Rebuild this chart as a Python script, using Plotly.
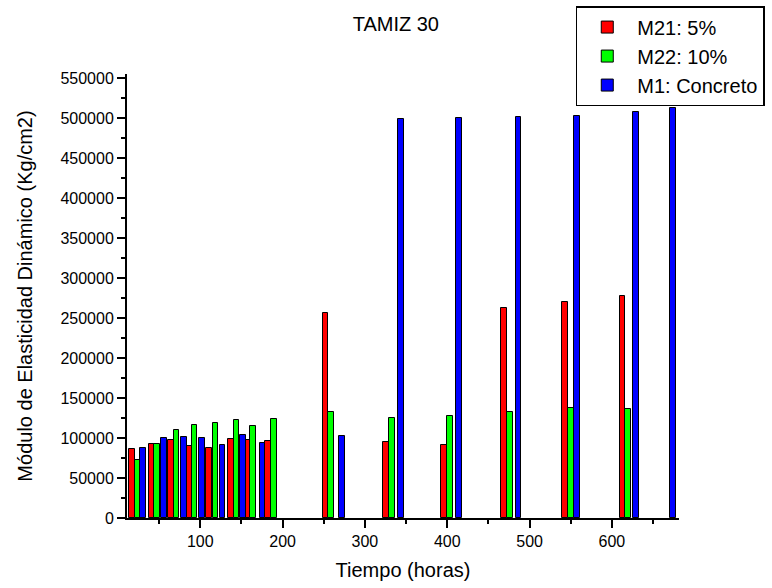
import plotly.graph_objects as go

# Data
hours_m21 = [17, 41, 64, 87, 111, 137, 157.5, 182, 252, 326, 396, 469, 543, 613]
mod_m21 = [86000, 92000, 97500, 90000, 87000, 98500, 97500, 96500,
           256500, 95500, 91500, 262500, 270000, 277500]

hours_m22 = [24, 47.5, 71, 93, 118.5, 144, 164, 189.5, 259, 333, 403, 476, 550, 620]
mod_m22 = [72000, 92500, 109500, 116500, 119000, 122000, 115000, 123500,
           132000, 124500, 127500, 133000, 137500, 136000]

hours_m1 = [30.5, 56, 80, 102.5, 127, 151.5, 175.5, 272, 343.5, 414, 486.5, 557.5, 629.5, 674]
mod_m1 = [87000, 100000, 101000, 100500, 91500, 104000, 93500,
          102500, 499000, 500000, 501000, 502000, 507000, 512500]

series = [
    ("M21: 5%", hours_m21, mod_m21, "#FF0000"),
    ("M22: 10%", hours_m22, mod_m22, "#00FF00"),
    ("M1: Concreto", hours_m1, mod_m1, "#0000FF"),
]

FONT = "Liberation Sans, Arial, Helvetica, sans-serif"

fig = go.Figure()
for name, xs, ys, col in series:
    fig.add_trace(go.Bar(
        name=name, x=xs, y=ys, width=7,
        marker=dict(color=col, line=dict(color="#000000", width=1)),
    ))

fig.update_layout(
    width=772, height=588,
    barmode="overlay",
    paper_bgcolor="white", plot_bgcolor="white",
    margin=dict(l=127, r=93, t=74, b=70, autoexpand=False),
    font=dict(family=FONT, color="#000000"),
    title=dict(text="TAMIZ 30", x=0.487, xref="paper", xanchor="center",
               y=1 - 24 / 588, yref="container", yanchor="middle",
               font=dict(size=20, family=FONT, color="#000000")),
    showlegend=True,
    legend=dict(x=0.813, y=1.153, xanchor="left", yanchor="top",
                bgcolor="white", bordercolor="#000000", borderwidth=1.5,
                font=dict(size=20, family=FONT, color="#000000"),
                tracegroupgap=0, itemwidth=50),
    bargap=0,
)

fig.update_xaxes(
    range=[11, 681.5], tickmode="linear", tick0=0, dtick=100,
    ticks="outside", ticklen=8, tickwidth=1.5, tickcolor="#000000",
    minor=dict(ticks="outside", ticklen=4, tickwidth=1.5, tickcolor="#000000",
               dtick=50, tick0=0, showgrid=False),
    showline=True, linecolor="#000000", linewidth=2,
    showgrid=False, zeroline=False,
    tickfont=dict(size=16, family=FONT, color="#000000"),
    title=dict(text="Tiempo (horas)", standoff=14,
               font=dict(size=20, family=FONT, color="#000000")),
)
fig.update_yaxes(
    range=[0, 555000], tickmode="linear", tick0=0, dtick=50000,
    ticks="outside", ticklen=8, tickwidth=1.5, tickcolor="#000000",
    minor=dict(ticks="outside", ticklen=4, tickwidth=1.5, tickcolor="#000000",
               dtick=25000, tick0=0, showgrid=False),
    showline=True, linecolor="#000000", linewidth=2,
    showgrid=False, zeroline=False, tickformat="d",
    tickfont=dict(size=16, family=FONT, color="#000000"),
    title=dict(text="Módulo de Elasticidad Dinámico (Kg/cm2)", standoff=22,
               font=dict(size=20, family=FONT, color="#000000")),
)

fig.write_html("out.html")
